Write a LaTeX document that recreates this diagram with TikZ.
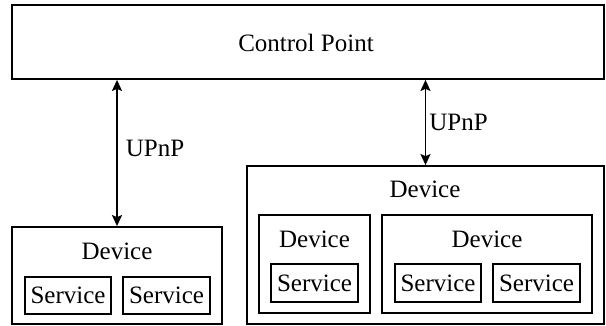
\documentclass[tikz,border=0pt]{standalone}
\usepackage{fontspec}
\setmainfont{Liberation Serif}
\usetikzlibrary{arrows.meta}
\begin{document}
\begin{tikzpicture}[x=1pt,y=-1pt,
  font=\fontsize{25}{29}\selectfont,
  boxst/.style={draw, line width=1.8pt, inner sep=0pt},
  lbl/.style={inner sep=0pt},
  arr/.style={line width=1.6pt, {Stealth[length=11pt,width=10pt,inset=2pt]}-{Stealth[length=11pt,width=10pt,inset=2pt]}}]
\useasboundingbox (0,0) rectangle (606,326);
% control point
\node[boxst, minimum width=592pt, minimum height=74pt] (cp) at (308,42) {};
\node[lbl] (cpt) at (306,43) {Control Point};
% left device
\node[boxst, minimum width=210pt, minimum height=97pt] (dev1) at (117,275.5) {};
\node[lbl] (dev1t) at (117,251) {Device};
\node[boxst, minimum width=86pt, minimum height=37pt] (s1a) at (68,295.5) {Service};
\node[boxst, minimum width=87pt, minimum height=37pt] (s1b) at (166.5,295.5) {Service};
% big device
\node[boxst, minimum width=357pt, minimum height=158pt] (dev2) at (425.5,245) {};
\node[lbl] (dev2t) at (425,189) {Device};
\node[boxst, minimum width=111pt, minimum height=98pt] (dev3) at (314.5,264) {};
\node[lbl] (dev3t) at (314.5,239) {Device};
\node[boxst, minimum width=87pt, minimum height=38pt] (s3) at (314.5,283) {Service};
\node[boxst, minimum width=210pt, minimum height=98pt] (dev4) at (487,264) {};
\node[lbl] (dev4t) at (487,239) {Device};
\node[boxst, minimum width=86pt, minimum height=38pt] (s4a) at (438,283) {Service};
\node[boxst, minimum width=87pt, minimum height=38pt] (s4b) at (536.5,283) {Service};
% arrows
\draw[arr] (cp.south -| dev1.north) -- node[lbl, anchor=west, pos=0.47, xshift=8pt] (u1) {UPnP} (dev1.north);
\draw[arr] (cp.south -| dev2.north) -- node[lbl, anchor=west, pos=0.5, xshift=3pt] (u2) {UPnP} (dev2.north);
\end{tikzpicture}
\end{document}
